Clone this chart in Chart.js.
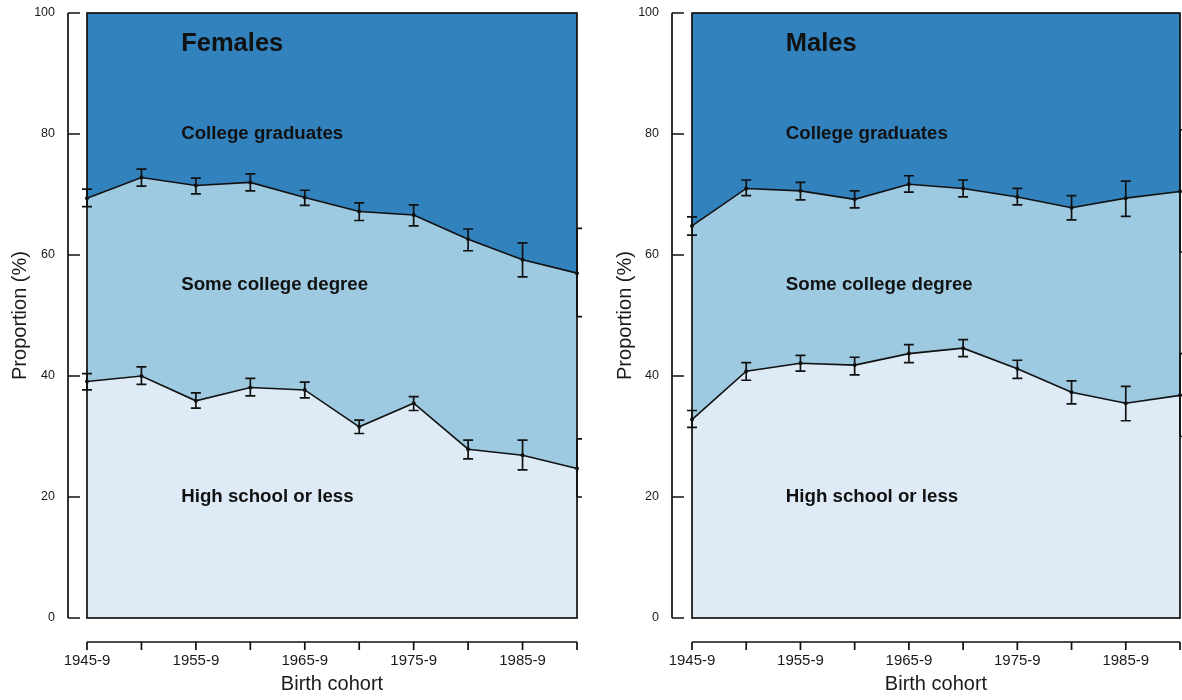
<!DOCTYPE html>
<html>
<head>
<meta charset="utf-8">
<script src="https://cdn.jsdelivr.net/npm/chart.js@4"></script>
<style>
  html, body { margin: 0; padding: 0; background: #fff; }
  #wrap { position: relative; width: 1182px; height: 700px; overflow: hidden; }
  .panel { position: absolute; top: 0; width: 591px; height: 700px; }
</style>
</head>
<body>
<div id="wrap">
  <div class="panel" style="left:0"><canvas id="females" width="591" height="700"></canvas></div>
  <div class="panel" style="left:593px"><canvas id="males" width="591" height="700"></canvas></div>
</div>
<script>
// Birth cohorts on the x axis
const cohorts = ['1945-9', '1950-4', '1955-9', '1960-4', '1965-9',
                 '1970-4', '1975-9', '1980-4', '1985-9', '1990-4'];
const yTickValues = [0, 20, 40, 60, 80, 100];
const bandLabels = ['College graduates', 'Some college degree', 'High school or less'];
const bandLabelY = [80, 55, 20];

// Females: cumulative proportions (%) with 95% CI
const femHighSchool    = [39.1, 40.0, 35.9, 38.1, 37.7, 31.6, 35.5, 27.9, 26.9, 24.7];
const femHighSchoolLo  = [37.7, 38.6, 34.7, 36.7, 36.4, 30.5, 34.3, 26.3, 24.5, 20.0];
const femHighSchoolHi  = [40.4, 41.5, 37.2, 39.6, 39.0, 32.7, 36.6, 29.4, 29.4, 29.6];
const femSomeCollege   = [69.4, 72.8, 71.5, 72.0, 69.5, 67.2, 66.6, 62.6, 59.2, 57.0];
const femSomeCollegeLo = [68.0, 71.4, 70.1, 70.6, 68.2, 65.7, 64.8, 60.7, 56.4, 49.8];
const femSomeCollegeHi = [70.9, 74.2, 72.7, 73.4, 70.7, 68.6, 68.3, 64.3, 62.0, 64.4];

// Males: cumulative proportions (%) with 95% CI
const maleHighSchool    = [32.8, 40.8, 42.1, 41.8, 43.7, 44.6, 41.2, 37.3, 35.5, 36.8];
const maleHighSchoolLo  = [31.5, 39.3, 40.8, 40.2, 42.2, 43.2, 39.6, 35.4, 32.6, 30.0];
const maleHighSchoolHi  = [34.3, 42.2, 43.4, 43.1, 45.2, 46.0, 42.6, 39.2, 38.3, 43.7];
const maleSomeCollege   = [64.8, 71.0, 70.6, 69.2, 71.7, 71.0, 69.6, 67.8, 69.4, 70.5];
const maleSomeCollegeLo = [63.3, 69.8, 69.1, 67.8, 70.4, 69.6, 68.3, 65.8, 66.4, 60.5];
const maleSomeCollegeHi = [66.3, 72.4, 72.0, 70.6, 73.1, 72.4, 71.0, 69.8, 72.2, 80.7];

const FONT = "'Liberation Sans', Arial, Helvetica, sans-serif";
const COLORS = { grad: '#3182bd', some: '#9ecae1', hs: '#deebf7', ink: '#111111' };

// Detached axes, frame, error bars and band labels
const panelDecor = {
  id: 'panelDecor',
  afterDatasetsDraw(chart, args, opts) {
    const { ctx, chartArea: a, scales: { x, y } } = chart;
    ctx.save();
    ctx.strokeStyle = COLORS.ink;
    ctx.lineCap = 'butt';

    // error bars
    ctx.lineWidth = 1.7;
    opts.bars.forEach(b => {
      b.lo.forEach((lo, i) => {
        const px = x.getPixelForValue(i);
        const y1 = y.getPixelForValue(lo);
        const y2 = y.getPixelForValue(b.hi[i]);
        const capL = i === b.lo.length - 1 ? 0 : 5;
        ctx.beginPath();
        ctx.moveTo(px, y1); ctx.lineTo(px, y2);
        ctx.moveTo(px - capL, y1); ctx.lineTo(px + 5, y1);
        ctx.moveTo(px - capL, y2); ctx.lineTo(px + 5, y2);
        ctx.stroke();
      });
    });

    // frame round the plot area
    ctx.lineWidth = 1.7;
    ctx.strokeRect(a.left, a.top, a.right - a.left, a.bottom - a.top);

    // y axis line with inward ticks
    const ax = a.left - opts.axisGap;
    ctx.beginPath();
    ctx.moveTo(ax, y.getPixelForValue(100));
    ctx.lineTo(ax, y.getPixelForValue(0));
    yTickValues.forEach(v => {
      const py = y.getPixelForValue(v);
      ctx.moveTo(ax, py); ctx.lineTo(ax + 12, py);
    });
    ctx.stroke();

    // x axis line below the plot with downward ticks
    const ay = a.bottom + 24;
    ctx.beginPath();
    ctx.moveTo(x.getPixelForValue(0), ay);
    ctx.lineTo(x.getPixelForValue(cohorts.length - 1), ay);
    cohorts.forEach((c, i) => {
      const px = x.getPixelForValue(i);
      ctx.moveTo(px, ay); ctx.lineTo(px, ay + 8);
    });
    ctx.stroke();

    // panel title and band labels
    ctx.fillStyle = COLORS.ink;
    ctx.textAlign = 'left';
    ctx.textBaseline = 'middle';
    const lx = x.getPixelForValue(1.73);
    ctx.font = `bold 25.5px ${FONT}`;
    ctx.fillText(opts.title, lx, y.getPixelForValue(95) + 1);
    ctx.font = `bold 18.7px ${FONT}`;
    bandLabels.forEach((t, i) => ctx.fillText(t, lx, y.getPixelForValue(bandLabelY[i])));
    ctx.restore();
  }
};

function noPad(s) {
  s.paddingTop = 0; s.paddingBottom = 0; s.paddingLeft = 0; s.paddingRight = 0;
}

function makePanel(id, title, hs, some, bars, geom) {
  const lineStyle = {
    borderColor: COLORS.ink, borderWidth: 1.6, tension: 0,
    pointRadius: 2, pointBackgroundColor: COLORS.ink, pointBorderWidth: 0
  };
  return new Chart(document.getElementById(id), {
    type: 'line',
    data: {
      labels: cohorts,
      datasets: [
        Object.assign({ label: 'High school or less', data: hs, fill: 'origin', backgroundColor: COLORS.hs }, lineStyle),
        Object.assign({ label: 'Some college degree', data: some, fill: '-1', backgroundColor: COLORS.some }, lineStyle),
        { label: 'College graduates', data: cohorts.map(() => 100), fill: '-1',
          backgroundColor: COLORS.grad, borderWidth: 0, pointRadius: 0, borderColor: COLORS.grad }
      ]
    },
    options: {
      responsive: false,
      animation: false,
      layout: { padding: { left: 0, top: 13, right: geom.padRight, bottom: 0 } },
      plugins: {
        legend: { display: false },
        tooltip: { enabled: false },
        panelDecor: { title: title, bars: bars, axisGap: geom.axisGap }
      },
      scales: {
        x: {
          type: 'category',
          offset: false,
          grid: { display: false, drawTicks: false },
          border: { display: false },
          afterFit(s) { s.height = 82; noPad(s); },
          ticks: {
            autoSkip: false, maxRotation: 0, padding: 34, color: '#1a1a1a',
            font: { family: FONT, size: 15 },
            callback(v, i) { return i % 2 === 0 ? this.getLabelForValue(v) : ''; }
          },
          title: {
            display: true, text: 'Birth cohort', color: '#1a1a1a',
            font: { family: FONT, size: 20 }, padding: { top: 0, bottom: 4 }
          }
        },
        y: {
          min: 0, max: 100,
          grid: { display: false, drawTicks: false },
          border: { display: false },
          afterFit(s) { s.width = geom.plotLeft; noPad(s); },
          ticks: {
            stepSize: 20, padding: geom.labelPad, color: '#1a1a1a',
            font: { family: FONT, size: 12.5 }
          },
          title: {
            display: true, text: 'Proportion (%)', color: '#1a1a1a',
            font: { family: FONT, size: 20 }, padding: { top: geom.titlePad, bottom: 0 }
          }
        }
      }
    },
    plugins: [panelDecor]
  });
}

makePanel('females', 'Females', femHighSchool, femSomeCollege, [
  { lo: femSomeCollegeLo, hi: femSomeCollegeHi },
  { lo: femHighSchoolLo, hi: femHighSchoolHi }
], { plotLeft: 87, padRight: 14, axisGap: 19, labelPad: 32, titlePad: 8 });

makePanel('males', 'Males', maleHighSchool, maleSomeCollege, [
  { lo: maleSomeCollegeLo, hi: maleSomeCollegeHi },
  { lo: maleHighSchoolLo, hi: maleHighSchoolHi }
], { plotLeft: 99, padRight: 0, axisGap: 20, labelPad: 33, titlePad: 20 });
</script>
</body>
</html>
